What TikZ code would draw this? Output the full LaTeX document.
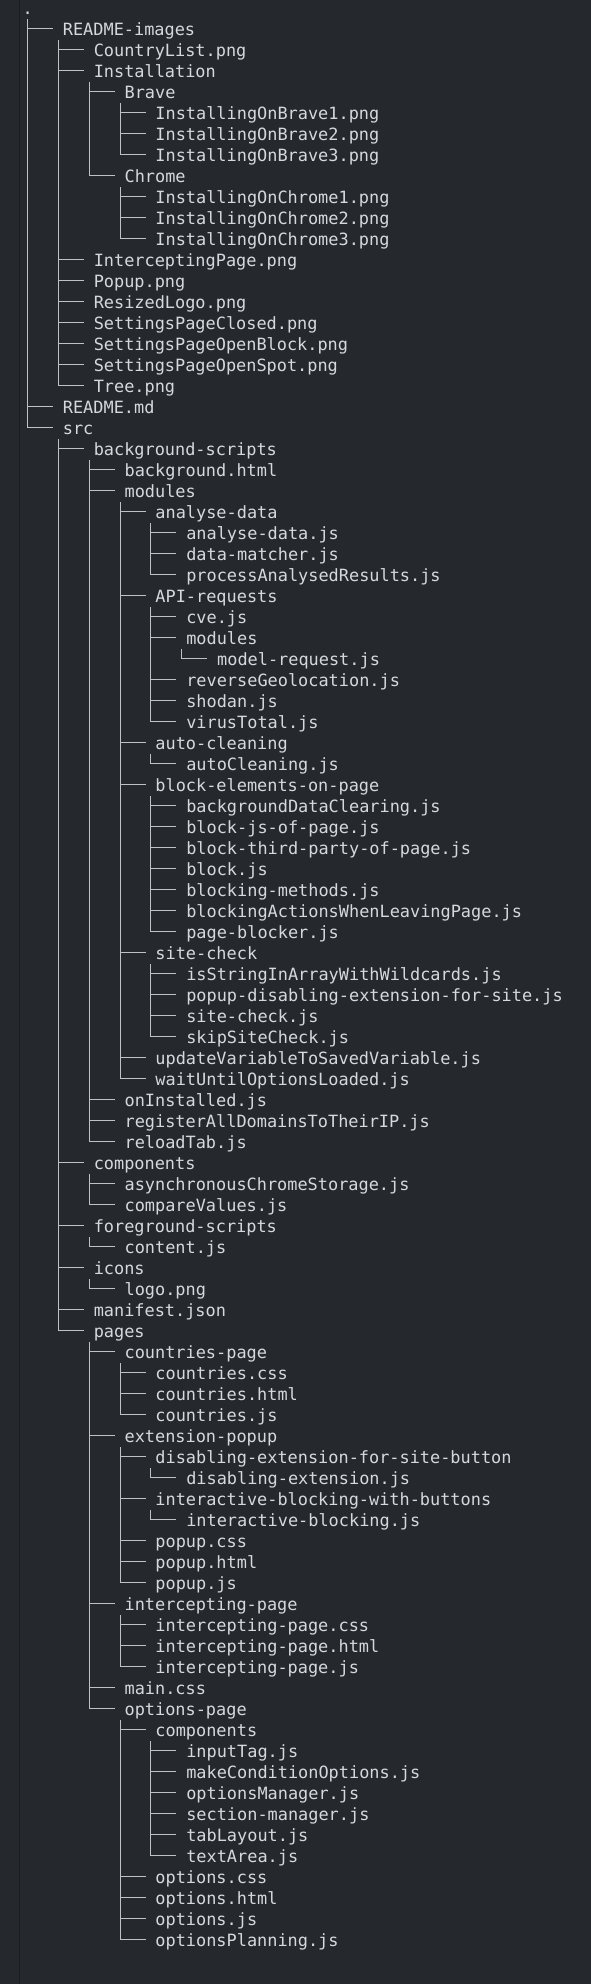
\documentclass[tikz,border=0pt]{standalone}
\usepackage{fontspec}
\newfontfamily\treefont{DejaVu Sans Mono}
\definecolor{bgcol}{RGB}{37,41,45}
\definecolor{gutter}{RGB}{26,29,32}
\definecolor{linecol}{RGB}{190,194,198}
\definecolor{textcol}{RGB}{214,217,220}
\tikzset{
  entry/.style={anchor=base west, inner sep=0pt, text height=13.4pt, text depth=0pt,
    text=textcol, font=\treefont\fontsize{16.9}{21}\selectfont},
  treeline/.style={draw=linecol, line width=1.05pt},
}
\newcommand\ent[4]{%
  \node[entry] (n#1) at ({62.7+(#2-1)*30.85}, {-(14+21*(#1-1))}) {#4};
  \coordinate (c#1) at ([xshift=-4.35pt,yshift=-5pt]n#1.south west);
  \draw[treeline] (c#3) |- ([xshift=-9.7pt]n#1.west);
}
\begin{document}
\begin{tikzpicture}[x=1pt,y=1pt]
\fill[bgcol] (0,0) rectangle (591,-1984);
\useasboundingbox (0,0) rectangle (591,-1984);
\coordinate (gtop) at (19.5,0);
\coordinate (gbot) at (19.5,-1984);
\draw[gutter, line width=1.3pt] (gtop) -- (gbot);
\node[entry] (n1) at (22.5,-14) {.};
\coordinate (c1) at ([yshift=-5pt]n1.south);
\ent{2}{1}{1}{README-images}
\ent{3}{2}{2}{CountryList.png}
\ent{4}{2}{2}{Installation}
\ent{5}{3}{4}{Brave}
\ent{6}{4}{5}{InstallingOnBrave1.png}
\ent{7}{4}{5}{InstallingOnBrave2.png}
\ent{8}{4}{5}{InstallingOnBrave3.png}
\ent{9}{3}{4}{Chrome}
\ent{10}{4}{9}{InstallingOnChrome1.png}
\ent{11}{4}{9}{InstallingOnChrome2.png}
\ent{12}{4}{9}{InstallingOnChrome3.png}
\ent{13}{2}{2}{InterceptingPage.png}
\ent{14}{2}{2}{Popup.png}
\ent{15}{2}{2}{ResizedLogo.png}
\ent{16}{2}{2}{SettingsPageClosed.png}
\ent{17}{2}{2}{SettingsPageOpenBlock.png}
\ent{18}{2}{2}{SettingsPageOpenSpot.png}
\ent{19}{2}{2}{Tree.png}
\ent{20}{1}{1}{README.md}
\ent{21}{1}{1}{src}
\ent{22}{2}{21}{background-scripts}
\ent{23}{3}{22}{background.html}
\ent{24}{3}{22}{modules}
\ent{25}{4}{24}{analyse-data}
\ent{26}{5}{25}{analyse-data.js}
\ent{27}{5}{25}{data-matcher.js}
\ent{28}{5}{25}{processAnalysedResults.js}
\ent{29}{4}{24}{API-requests}
\ent{30}{5}{29}{cve.js}
\ent{31}{5}{29}{modules}
\ent{32}{6}{31}{model-request.js}
\ent{33}{5}{29}{reverseGeolocation.js}
\ent{34}{5}{29}{shodan.js}
\ent{35}{5}{29}{virusTotal.js}
\ent{36}{4}{24}{auto-cleaning}
\ent{37}{5}{36}{autoCleaning.js}
\ent{38}{4}{24}{block-elements-on-page}
\ent{39}{5}{38}{backgroundDataClearing.js}
\ent{40}{5}{38}{block-js-of-page.js}
\ent{41}{5}{38}{block-third-party-of-page.js}
\ent{42}{5}{38}{block.js}
\ent{43}{5}{38}{blocking-methods.js}
\ent{44}{5}{38}{blockingActionsWhenLeavingPage.js}
\ent{45}{5}{38}{page-blocker.js}
\ent{46}{4}{24}{site-check}
\ent{47}{5}{46}{isStringInArrayWithWildcards.js}
\ent{48}{5}{46}{popup-disabling-extension-for-site.js}
\ent{49}{5}{46}{site-check.js}
\ent{50}{5}{46}{skipSiteCheck.js}
\ent{51}{4}{24}{updateVariableToSavedVariable.js}
\ent{52}{4}{24}{waitUntilOptionsLoaded.js}
\ent{53}{3}{22}{onInstalled.js}
\ent{54}{3}{22}{registerAllDomainsToTheirIP.js}
\ent{55}{3}{22}{reloadTab.js}
\ent{56}{2}{21}{components}
\ent{57}{3}{56}{asynchronousChromeStorage.js}
\ent{58}{3}{56}{compareValues.js}
\ent{59}{2}{21}{foreground-scripts}
\ent{60}{3}{59}{content.js}
\ent{61}{2}{21}{icons}
\ent{62}{3}{61}{logo.png}
\ent{63}{2}{21}{manifest.json}
\ent{64}{2}{21}{pages}
\ent{65}{3}{64}{countries-page}
\ent{66}{4}{65}{countries.css}
\ent{67}{4}{65}{countries.html}
\ent{68}{4}{65}{countries.js}
\ent{69}{3}{64}{extension-popup}
\ent{70}{4}{69}{disabling-extension-for-site-button}
\ent{71}{5}{70}{disabling-extension.js}
\ent{72}{4}{69}{interactive-blocking-with-buttons}
\ent{73}{5}{72}{interactive-blocking.js}
\ent{74}{4}{69}{popup.css}
\ent{75}{4}{69}{popup.html}
\ent{76}{4}{69}{popup.js}
\ent{77}{3}{64}{intercepting-page}
\ent{78}{4}{77}{intercepting-page.css}
\ent{79}{4}{77}{intercepting-page.html}
\ent{80}{4}{77}{intercepting-page.js}
\ent{81}{3}{64}{main.css}
\ent{82}{3}{64}{options-page}
\ent{83}{4}{82}{components}
\ent{84}{5}{83}{inputTag.js}
\ent{85}{5}{83}{makeConditionOptions.js}
\ent{86}{5}{83}{optionsManager.js}
\ent{87}{5}{83}{section-manager.js}
\ent{88}{5}{83}{tabLayout.js}
\ent{89}{5}{83}{textArea.js}
\ent{90}{4}{82}{options.css}
\ent{91}{4}{82}{options.html}
\ent{92}{4}{82}{options.js}
\ent{93}{4}{82}{optionsPlanning.js}
\end{tikzpicture}
\end{document}
